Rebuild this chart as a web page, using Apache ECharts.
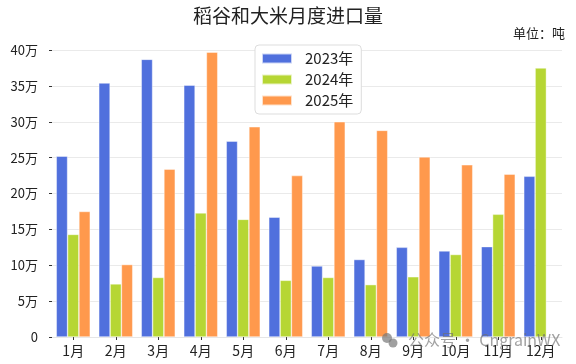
<!DOCTYPE html>
<html>
<head>
<meta charset="utf-8">
<script src="https://cdn.jsdelivr.net/npm/echarts@6/dist/echarts.min.js"></script>
<style>html,body{margin:0;padding:0;background:#fff;}#c{width:576px;height:364px;}</style>
</head>
<body>
<div id="c"></div>
<script>
const categories = ['1月','2月','3月','4月','5月','6月','7月','8月','9月','10月','11月','12月'];
const v2023 = [252000, 354000, 387000, 351000, 273000, 167000, 99000, 108000, 125000, 120000, 126000, 224000];
const v2024 = [143000, 74000, 83000, 173000, 164000, 79000, 83000, 73000, 84000, 115000, 171000, 375000];
const v2025 = [175000, 101000, 234000, 397000, 293000, 225000, 300000, 288000, 251000, 240000, 227000, null];
const yTicks = [0, 50000, 100000, 150000, 200000, 250000, 300000, 350000, 400000];

const font = "'Noto Sans CJK SC', 'Noto Sans', sans-serif";
const chart = echarts.init(document.getElementById('c'), null, {renderer: 'canvas'});
const barStyle = c => ({color: c, borderColor: 'rgba(255,255,255,0.7)', borderWidth: 0.6});
chart.setOption({
  animation: false,
  textStyle: {fontFamily: font},
  title: [
    {text: '稻谷和大米月度进口量', left: 'center', top: 1,
     textStyle: {fontSize: 19, fontWeight: 'normal', color: '#222', fontFamily: font}},
    {text: '单位：吨', right: 6, top: 22,
     textStyle: {fontSize: 13, fontWeight: 'normal', color: '#222', fontFamily: font}}
  ],
  legend: {
    orient: 'vertical', left: 255, top: 45,
    itemWidth: 30, itemHeight: 10, itemGap: 6,
    padding: [6, 8, 6, 6],
    backgroundColor: '#fff', borderColor: '#ddd', borderWidth: 1, borderRadius: 4,
    textStyle: {fontSize: 15, color: '#222', fontFamily: font, padding: [0, 0, 0, 8]},
    icon: 'rect',
    data: ['2023年', '2024年', '2025年']
  },
  grid: {left: 52, right: 14, top: 50, bottom: 27},
  xAxis: {
    type: 'category', data: categories,
    axisLine: {show: true, lineStyle: {color: '#e6e6e6'}},
    axisTick: {show: true, alignWithLabel: true, length: 3, lineStyle: {color: '#333'}},
    axisLabel: {fontSize: 14, color: '#222', margin: 7, fontFamily: font}
  },
  yAxis: {
    type: 'value', min: 0, max: 400000, interval: 50000,
    axisLine: {show: false},
    axisTick: {show: true, length: 3, lineStyle: {color: '#333'}},
    splitLine: {lineStyle: {color: '#eaeaea'}},
    axisLabel: {fontSize: 13, color: '#222', margin: 14, fontFamily: font,
      formatter: v => v === 0 ? '0' : (v / 10000) + '万'}
  },
  series: [
    {name: '2023年', type: 'bar', data: v2023, barGap: '0%', barCategoryGap: '20%', itemStyle: barStyle('#5070dd')},
    {name: '2024年', type: 'bar', data: v2024, barGap: '0%', barCategoryGap: '20%', itemStyle: barStyle('#b6d634')},
    {name: '2025年', type: 'bar', data: v2025, barGap: '0%', barCategoryGap: '20%', itemStyle: barStyle('#ff994d')}
  ],
  graphic: [
    {type: 'circle', shape: {cx: 387, cy: 338, r: 5}, z: 100, zlevel: 1, style: {fill: 'rgba(120,120,120,0.7)'}},
    {type: 'circle', shape: {cx: 393, cy: 343, r: 4.5}, z: 100, zlevel: 1, style: {fill: 'rgba(120,120,120,0.7)'}},
    {type: 'text', left: 408, top: 332, z: 100, zlevel: 1,
     style: {text: '公众号 · CngrainWX', fontSize: 16, fill: 'rgba(110,110,110,0.65)', fontFamily: font}}
  ]
});
</script>
</body>
</html>
